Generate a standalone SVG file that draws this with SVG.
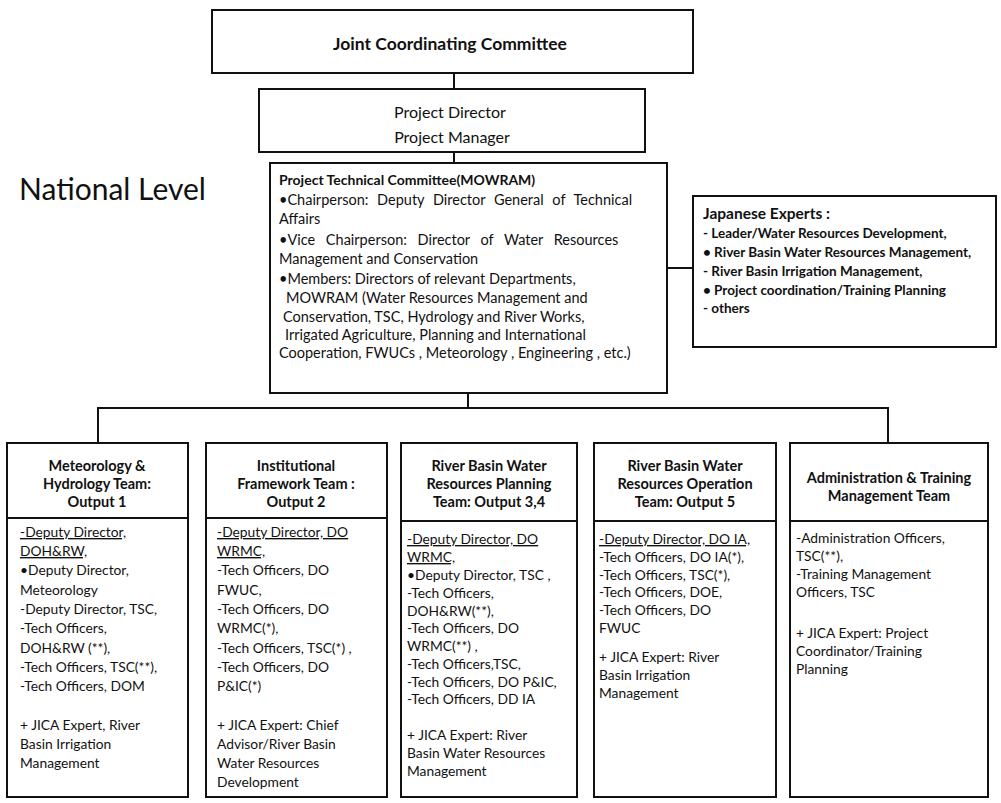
<svg xmlns="http://www.w3.org/2000/svg" width="1001" height="803" viewBox="0 0 1001 803">
<style>
text{font-family:Lato,"Liberation Sans",sans-serif;fill:#111}
.box{fill:#fff;stroke:#111;stroke-width:2}
.ln{stroke:#111;stroke-width:2;fill:none}
.t1{font-size:17.5px;font-weight:bold}
.t2{font-size:16px}
.nl{font-size:30px}
.p{font-size:14.5px}
.pb{font-size:14px;font-weight:bold}
.j{font-size:13.5px;font-weight:bold}
.jb{font-size:15.5px;font-weight:bold}
.h{font-size:14.5px;font-weight:bold;text-anchor:middle}
.b{font-size:13.8px}
.u{text-decoration:underline}
</style>
<rect width="1001" height="803" fill="#fff"/>
<g id="connectors">
<line class="ln" x1="454" y1="73" x2="454" y2="89"/>
<line class="ln" x1="454" y1="152" x2="454" y2="163"/>
<line class="ln" x1="667" y1="268" x2="693" y2="268"/>
<line class="ln" x1="468" y1="393" x2="468" y2="408"/>
<line class="ln" x1="97" y1="408" x2="889" y2="408"/>
<line class="ln" x1="98" y1="408" x2="98" y2="443"/>
<line class="ln" x1="888" y1="408" x2="888" y2="443"/>
</g>
<g id="jcc">
<rect class="box" x="212" y="10" width="481" height="63"/>
<text class="t1" x="450" y="50" text-anchor="middle">Joint Coordinating Committee</text>
</g>
<g id="pd">
<rect class="box" x="259" y="89" width="386" height="63"/>
<text class="t2" x="450" y="118" text-anchor="middle">Project Director</text>
<text class="t2" x="452" y="143" text-anchor="middle">Project Manager</text>
</g>
<g id="national">
<text class="nl" x="19" y="200">National Level</text>
</g>
<g id="ptc">
<rect class="box" x="270" y="163" width="397" height="230"/>
<text class="pb" x="279" y="185">Project Technical Committee(MOWRAM)</text>
<text class="p" x="279" y="205" word-spacing="5">•Chairperson:  Deputy Director General of Technical</text>
<text class="p" x="279" y="224">Affairs</text>
<text class="p" x="279" y="245" word-spacing="7">•Vice Chairperson:  Director of Water Resources</text>
<text class="p" x="279" y="264">Management and Conservation</text>
<text class="p" x="279" y="284">•Members:  Directors of relevant Departments,</text>
<text class="p" x="286" y="303">MOWRAM (Water Resources Management and</text>
<text class="p" x="283" y="322">Conservation,  TSC, Hydrology and River Works,</text>
<text class="p" x="285" y="340">Irrigated Agriculture, Planning and International</text>
<text class="p" x="279" y="358">Cooperation, FWUCs , Meteorology , Engineering , etc.)</text>
</g>
<g id="japanese">
<rect class="box" x="693" y="196" width="303" height="151"/>
<text class="jb" x="703" y="219">Japanese Experts :</text>
<text class="j" x="703" y="238">- Leader/Water Resources  Development,</text>
<text class="j" x="703" y="257">• River Basin Water Resources Management,</text>
<text class="j" x="703" y="276">- River Basin Irrigation Management,</text>
<text class="j" x="703" y="295">• Project coordination/Training Planning</text>
<text class="j" x="703" y="313">- others</text>
</g>
<g id="team1">
<rect class="box" x="7" y="443" width="181" height="354"/>
<line class="ln" x1="7" y1="518" x2="188" y2="518"/>
<text class="h" x="97" y="471">Meteorology &amp;</text>
<text class="h" x="97" y="489">Hydrology Team:</text>
<text class="h" x="97" y="507">Output 1</text>
<text class="b u" x="20" y="537">-Deputy Director,</text>
<text class="b u" x="20" y="556">DOH&amp;RW,</text>
<text class="b" x="20" y="575">•Deputy Director,</text>
<text class="b" x="20" y="595">Meteorology</text>
<text class="b" x="20" y="614">-Deputy Director, TSC,</text>
<text class="b" x="20" y="633">-Tech Officers,</text>
<text class="b" x="20" y="653">DOH&amp;RW (**),</text>
<text class="b" x="20" y="672">-Tech Officers, TSC(**),</text>
<text class="b" x="20" y="691">-Tech Officers, DOM</text>
<text class="b" x="20" y="730">+ JICA Expert, River</text>
<text class="b" x="20" y="749">Basin Irrigation</text>
<text class="b" x="20" y="768">Management</text>
</g>
<g id="team2">
<rect class="box" x="206" y="443" width="181" height="354"/>
<line class="ln" x1="206" y1="518" x2="387" y2="518"/>
<text class="h" x="296" y="471">Institutional</text>
<text class="h" x="296" y="489">Framework  Team :</text>
<text class="h" x="296" y="507">Output 2</text>
<text class="b u" x="217" y="537">-Deputy Director, DO</text>
<text class="b u" x="217" y="556">WRMC,</text>
<text class="b" x="217" y="575">-Tech Officers, DO</text>
<text class="b" x="217" y="595">FWUC,</text>
<text class="b" x="217" y="614">-Tech Officers, DO</text>
<text class="b" x="217" y="633">WRMC(*),</text>
<text class="b" x="217" y="653">-Tech Officers, TSC(*) ,</text>
<text class="b" x="217" y="672">-Tech Officers, DO</text>
<text class="b" x="217" y="691">P&amp;IC(*)</text>
<text class="b" x="217" y="730">+ JICA Expert: Chief</text>
<text class="b" x="217" y="749">Advisor/River Basin</text>
<text class="b" x="217" y="768">Water Resources</text>
<text class="b" x="217" y="787">Development</text>
</g>
<g id="team3">
<rect class="box" x="401" y="443" width="176" height="354"/>
<line class="ln" x1="401" y1="521" x2="577" y2="521"/>
<text class="h" x="489" y="471">River Basin Water</text>
<text class="h" x="489" y="489">Resources Planning</text>
<text class="h" x="489" y="507">Team: Output 3,4</text>
<text class="b u" x="407" y="544">-Deputy Director, DO</text>
<text class="b u" x="407" y="562">WRMC,</text>
<text class="b" x="407" y="580">•Deputy Director, TSC ,</text>
<text class="b" x="407" y="598">-Tech Officers,</text>
<text class="b" x="407" y="616">DOH&amp;RW(**),</text>
<text class="b" x="407" y="633">-Tech Officers, DO</text>
<text class="b" x="407" y="651">WRMC(**) ,</text>
<text class="b" x="407" y="669">-Tech Officers,TSC,</text>
<text class="b" x="407" y="687">-Tech Officers, DO P&amp;IC,</text>
<text class="b" x="407" y="704">-Tech Officers, DD IA</text>
<text class="b" x="407" y="740">+ JICA Expert: River</text>
<text class="b" x="407" y="758">Basin Water Resources</text>
<text class="b" x="407" y="776">Management</text>
</g>
<g id="team4">
<rect class="box" x="594" y="443" width="182" height="354"/>
<line class="ln" x1="594" y1="521" x2="776" y2="521"/>
<text class="h" x="685" y="471">River Basin Water</text>
<text class="h" x="685" y="489">Resources Operation</text>
<text class="h" x="685" y="507">Team: Output 5</text>
<text class="b u" x="599" y="544">-Deputy Director, DO IA,</text>
<text class="b" x="599" y="562">-Tech Officers, DO IA(*),</text>
<text class="b" x="599" y="580">-Tech Officers, TSC(*),</text>
<text class="b" x="599" y="597">-Tech Officers, DOE,</text>
<text class="b" x="599" y="615">-Tech Officers, DO</text>
<text class="b" x="599" y="633">FWUC</text>
<text class="b" x="599" y="662">+ JICA Expert: River</text>
<text class="b" x="599" y="680">Basin Irrigation</text>
<text class="b" x="599" y="698">Management</text>
</g>
<g id="team5">
<rect class="box" x="790" y="443" width="198" height="354"/>
<line class="ln" x1="790" y1="521" x2="988" y2="521"/>
<text class="h" x="889" y="483">Administration &amp; Training</text>
<text class="h" x="889" y="501">Management Team</text>
<text class="b" x="796" y="543">-Administration Officers,</text>
<text class="b" x="796" y="561">TSC(**),</text>
<text class="b" x="796" y="579">-Training Management</text>
<text class="b" x="796" y="597">Officers, TSC</text>
<text class="b" x="796" y="638">+ JICA Expert: Project</text>
<text class="b" x="796" y="656">Coordinator/Training</text>
<text class="b" x="796" y="674">Planning</text>
</g>
</svg>
